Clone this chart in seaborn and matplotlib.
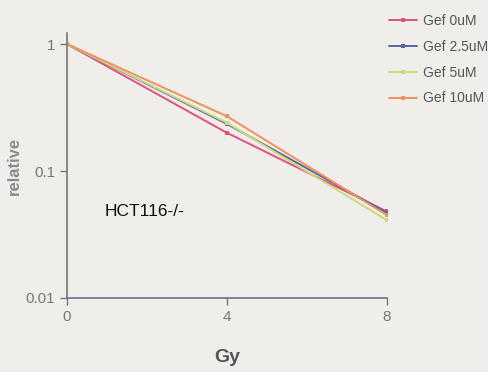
import matplotlib
matplotlib.use('Agg')
import matplotlib.pyplot as plt
import numpy as np
import pandas as pd
import seaborn as sns
from matplotlib.ticker import FixedLocator, FixedFormatter, NullLocator

# data
doses = [0, 4, 8]
gef_0 = [1.0, 0.20, 0.048]
gef_2_5 = [1.0, 0.235, 0.047]
gef_5 = [1.0, 0.24, 0.041]
gef_10 = [1.0, 0.27, 0.045]
series_names = ['Gef 0uM', 'Gef 2.5uM', 'Gef 5uM', 'Gef 10uM']
colors = ['#e2517c', '#5a64a0', '#c9dc78', '#f0925e']

df = pd.DataFrame({
    'Gy': doses * 4,
    'relative': gef_0 + gef_2_5 + gef_5 + gef_10,
    'group': [n for n in series_names for _ in doses],
})

sns.set_style('ticks')
plt.rcParams['font.family'] = ['Liberation Sans', 'DejaVu Sans']

bg = '#efeeeb'
fig = plt.figure(figsize=(4.89, 3.72), dpi=100, facecolor=bg)
ax = fig.add_axes([0.137, 0.199, 0.654, 0.712])
ax.set_facecolor(bg)

plot = sns.lineplot(df, x='Gy', y='relative', hue='group', hue_order=series_names,
                    palette=dict(zip(series_names, colors)), marker='s', markersize=3.5,
                    markeredgewidth=0, linewidth=1.4, ax=ax, legend=True)

ax.set_yscale('log')
ax.set_ylim(0.01, 1.22)
ax.set_xlim(0, 8)
ax.yaxis.set_major_locator(FixedLocator([0.01, 0.1, 1]))
ax.yaxis.set_major_formatter(FixedFormatter(['0.01', '0.1', '1']))
ax.yaxis.set_minor_locator(NullLocator())
ax.set_xticks([0, 4, 8])

for side in ['top', 'right']:
    ax.spines[side].set_visible(False)
for side in ['left', 'bottom']:
    ax.spines[side].set_color('#777777')
    ax.spines[side].set_linewidth(1.2)
ax.spines['bottom'].set_color('#6a6e90')
ax.tick_params(colors='#777777', labelcolor='#777777', labelsize=11, length=5, width=1)

ax.set_xlabel('Gy', fontsize=14, fontweight='bold', color='#555555', labelpad=18)
ax.set_ylabel('relative', fontsize=12, fontweight='bold', color='#8a8a8a', labelpad=3)

ax.text(105 / 489, 1 - 211 / 372, 'HCT116-/-', transform=fig.transFigure,
        fontsize=12.5, color='#111111', va='center', ha='left')

handles, labels = ax.get_legend_handles_labels()
ax.legend(handles, labels, loc='upper left', bbox_to_anchor=(389 / 489, 1 - 14 / 372),
          bbox_transform=fig.transFigure, frameon=False, fontsize=10, labelspacing=0.85,
          handlelength=2.0, handletextpad=0.45, borderpad=0, borderaxespad=0,
          labelcolor='#555555')

fig.savefig('out.png', dpi=100, facecolor=bg)
